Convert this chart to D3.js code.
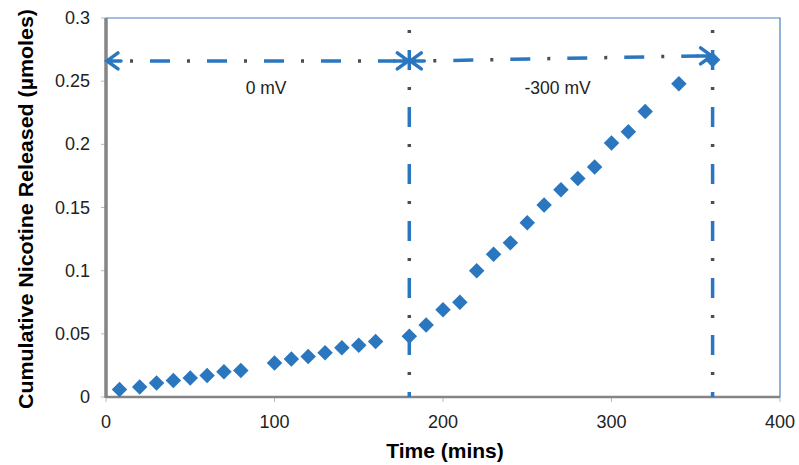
<!DOCTYPE html>
<html>
<head>
<meta charset="utf-8">
<script src="https://cdn.jsdelivr.net/npm/d3@7"></script>
<style>
  body { margin: 0; background: #fff; }
  text { font-family: "Liberation Sans", Arial, sans-serif; }
</style>
</head>
<body>
<div id="chart"></div>
<script>
const WIDTH = 799;
const HEIGHT = 465;
const MARGIN = { top: 18, right: 19, bottom: 68, left: 106 };

// datos
const tiempos = [8, 20, 30, 40, 50, 60, 70, 80, 100, 110, 120, 130, 140, 150, 160,
  180, 190, 200, 210, 220, 230, 240, 250, 260, 270, 280, 290, 300, 310, 320, 340, 360];
const nicotina = [0.006, 0.008, 0.011, 0.013, 0.015, 0.017, 0.020, 0.021, 0.027, 0.030,
  0.032, 0.035, 0.039, 0.041, 0.044, 0.048, 0.057, 0.069, 0.075, 0.100, 0.113, 0.122,
  0.138, 0.152, 0.164, 0.173, 0.182, 0.201, 0.210, 0.226, 0.248, 0.267];
const xTicks = [0, 100, 200, 300, 400];
const yTicks = [0, 0.05, 0.1, 0.15, 0.2, 0.25, 0.3];
const lineasV = [180, 360];
const tramos = [
  { x0: 0, x1: 180, y0: 0.266, y1: 0.266, label: "0 mV", lx: 95, ly: 0.24 },
  { x0: 180, x1: 360, y0: 0.266, y1: 0.270, label: "-300 mV", lx: 268, ly: 0.24 }
];

const data = tiempos.map((t, i) => ({ t: t, v: nicotina[i] }));

const SVG = d3.select("#chart").append("svg")
  .attr("width", WIDTH).attr("height", HEIGHT);

const x = d3.scaleLinear().domain([0, 400]).range([MARGIN.left, WIDTH - MARGIN.right]);
const y = d3.scaleLinear().domain([0, 0.3]).range([HEIGHT - MARGIN.bottom, MARGIN.top]);

const AZUL = "#2a77c0";
const GRIS = "#4d4d4d";

// marco superior y derecho (azul fino)
SVG.append("path")
  .attr("d", `M${x(0)},${y(0.3)}H${x(400)}V${y(0)}`)
  .attr("fill", "none").attr("stroke", "#4a7ebb").attr("stroke-width", 1.2);

// ticks
SVG.selectAll(".ytick").data(yTicks).join("line")
  .attr("x1", x(0) - 5).attr("x2", x(0))
  .attr("y1", d => y(d)).attr("y2", d => y(d))
  .attr("stroke", "#bbb").attr("stroke-width", 1);
SVG.selectAll(".xtick").data(xTicks).join("line")
  .attr("x1", d => x(d)).attr("x2", d => x(d))
  .attr("y1", y(0)).attr("y2", y(0) + 5)
  .attr("stroke", "#bbb").attr("stroke-width", 1);

// ejes grises
SVG.append("line")
  .attr("x1", x(0)).attr("x2", x(400)).attr("y1", y(0)).attr("y2", y(0))
  .attr("stroke", "#858585").attr("stroke-width", 2.5);
SVG.append("line")
  .attr("x1", x(0)).attr("x2", x(0)).attr("y1", y(0.3)).attr("y2", y(0) + 1)
  .attr("stroke", "#858585").attr("stroke-width", 3.5);

// etiquetas de ticks
SVG.selectAll(".ylab").data(yTicks).join("text")
  .attr("x", x(0) - 16).attr("y", d => y(d) + 6)
  .attr("text-anchor", "end").style("font-size", "18px").attr("fill", "#222")
  .text(d => d);
SVG.selectAll(".xlab").data(xTicks).join("text")
  .attr("x", d => x(d)).attr("y", y(0) + 31)
  .attr("text-anchor", "middle").style("font-size", "18px").attr("fill", "#222")
  .text(d => d);

// titulos
SVG.append("text")
  .attr("x", (x(0) + x(400)) / 2 + 2).attr("y", 458)
  .attr("text-anchor", "middle").style("font-size", "21px").style("font-weight", "bold")
  .text("Time (mins)");
SVG.append("text")
  .attr("transform", `translate(33, ${(8 + 410) / 2}) rotate(-90)`)
  .attr("text-anchor", "middle").style("font-size", "21px").style("font-weight", "bold")
  .attr("textLength", 400).attr("lengthAdjust", "spacingAndGlyphs")
  .text("Cumulative Nicotine Released (µmoles)");

// linea punto-raya: raya azul + punto gris (periodo 57)
function dashDot(x1, y1, x2, y2) {
  SVG.append("line")
    .attr("x1", x1).attr("y1", y1).attr("x2", x2).attr("y2", y2)
    .attr("stroke", AZUL).attr("stroke-width", 3.5)
    .attr("stroke-dasharray", "20 37").attr("stroke-dashoffset", 27);
  SVG.append("line")
    .attr("x1", x1).attr("y1", y1).attr("x2", x2).attr("y2", y2)
    .attr("stroke", GRIS).attr("stroke-width", 3.5)
    .attr("stroke-dasharray", "3 54").attr("stroke-dashoffset", 47);
}

lineasV.forEach(t => dashDot(x(t), y(0.3) + 2, x(t), y(0)));

function flecha(px, py, dir) {
  SVG.append("path")
    .attr("d", `M${px - dir * 11},${py - 8}L${px},${py}L${px - dir * 11},${py + 8}M${px},${py}H${px - dir * 14}`)
    .attr("fill", "none").attr("stroke", AZUL).attr("stroke-width", 3.5)
    .attr("stroke-linejoin", "miter").attr("stroke-linecap", "round");
}

tramos.forEach(s => {
  dashDot(x(s.x0) + 14, y(s.y0), x(s.x1) - 14, y(s.y1));
  flecha(x(s.x0) + 1, y(s.y0), -1);
  flecha(x(s.x1) - 1, y(s.y1), 1);
  SVG.append("text")
    .attr("x", x(s.lx)).attr("y", y(s.ly))
    .attr("text-anchor", "middle").style("font-size", "17.5px").attr("fill", "#222")
    .text(s.label);
});

// puntos (diamantes)
const diamante = d3.symbol().type(d3.symbolSquare).size(120);
SVG.selectAll(".punto").data(data).join("path")
  .attr("class", "punto")
  .attr("d", diamante)
  .attr("transform", d => `translate(${x(d.t)},${y(d.v)}) rotate(45)`)
  .attr("fill", AZUL);
</script>
</body>
</html>
